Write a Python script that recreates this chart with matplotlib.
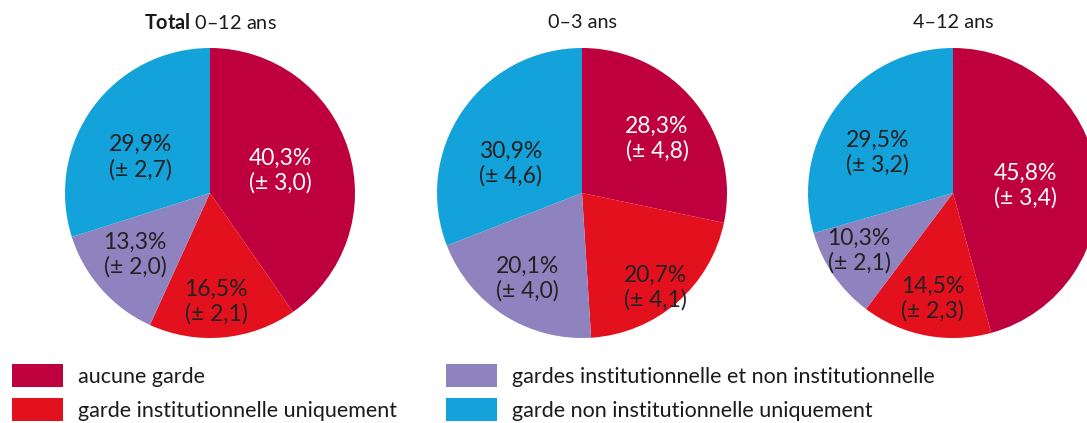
import matplotlib
matplotlib.use("Agg")
import matplotlib.pyplot as plt
import numpy as np

plt.rcParams['font.family'] = ['Lato', 'DejaVu Sans']
plt.rcParams['mathtext.fontset'] = 'custom'
plt.rcParams['mathtext.rm'] = 'Lato'
plt.rcParams['mathtext.bf'] = 'Lato:bold'

categories = ["aucune garde", "garde institutionnelle uniquement",
              "gardes institutionnelle et non institutionnelle",
              "garde non institutionnelle uniquement"]
colors = ["#BE003F", "#E3101E", "#8F83BF", "#14A2DA"]

titles = [r"$\bf{Total}$ 0–12 ans", "0–3 ans", "4–12 ans"]
total_vals = [40.3, 16.5, 13.3, 29.9]
total_err = [3.0, 2.1, 2.0, 2.7]
age03_vals = [28.3, 20.7, 20.1, 30.9]
age03_err = [4.8, 4.1, 4.0, 4.6]
age412_vals = [45.8, 14.5, 10.3, 29.5]
age412_err = [3.4, 2.3, 2.1, 3.2]

W, H = 1087, 423
fig = plt.figure(figsize=(W / 100, H / 100), dpi=100)
ax = fig.add_axes([0, 0, 1, 1])

centers_x = [210, 582, 953]
center_y = H - 193
radius = 145

# label layout: (radius fraction, angle offset in degrees) for each slice
label_layout = [
    [(0.51, 0), (0.75, -2), (0.67, -2), (0.54, 9)],
    [(0.64, -3), (0.83, -3), (0.70, 0), (0.53, 12)],
    [(0.50, -2), (0.74, 0), (0.76, -3), (0.59, 9)],
]

def fmt(v):
    return f"{v:.1f}".replace(".", ",")

datasets = [(total_vals, total_err), (age03_vals, age03_err), (age412_vals, age412_err)]
wedges_all = None
for i, (vals, errs) in enumerate(datasets):
    cx = centers_x[i]
    wedges, _ = ax.pie(vals, colors=colors, startangle=90, counterclock=False,
                       center=(cx, center_y), radius=radius,
                       wedgeprops=dict(linewidth=0), normalize=True, frame=True)
    if wedges_all is None:
        wedges_all = wedges
    for j, w in enumerate(wedges):
        mid = 0.5 * (w.theta1 + w.theta2)
        rf, off = label_layout[i][j]
        a = np.deg2rad(mid + off)
        x = cx + rf * radius * np.cos(a)
        y = center_y + rf * radius * np.sin(a)
        col = "white" if j == 0 else "#222222"
        ax.text(x, y, f"{fmt(vals[j])}%\n(± {fmt(errs[j])})", ha='center', va='center',
                fontsize=16.5, color=col, linespacing=1.2)

ax.set_xlim(0, W)
ax.set_ylim(0, H)
ax.set_aspect('equal')
ax.axis('off')

# titles
ty = H - 22
for i in range(3):
    ax.text(centers_x[i], ty, titles[i], ha='center', va='center', fontsize=14.3,
            color="#1a1a1a")

# legends
leg_kw = dict(frameon=False, fontsize=15.5, handlelength=2.37, handleheight=1.27,
              handletextpad=0.7, labelspacing=0.5, borderpad=0, borderaxespad=0,
              labelcolor="#1a1a1a")
leg1 = ax.legend(wedges_all[:2], categories[:2], loc='upper left',
                 bbox_to_anchor=(12 / W, (H - 364) / H), **leg_kw)
ax.add_artist(leg1)
leg2 = ax.legend(wedges_all[2:], categories[2:], loc='upper left',
                 bbox_to_anchor=(446 / W, (H - 364) / H), **leg_kw)

fig.savefig("out.png", dpi=100, facecolor="white")
